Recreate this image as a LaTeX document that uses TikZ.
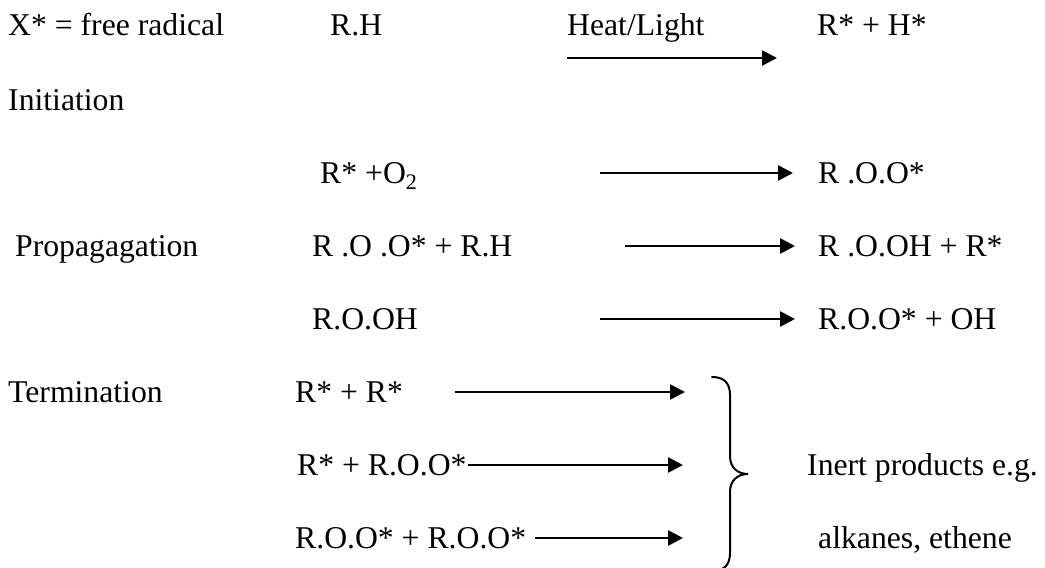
\documentclass[tikz,border=0pt]{standalone}
\usepackage{fontspec}
\setmainfont{Liberation Serif}
\usetikzlibrary{arrows.meta}

\begin{document}
\begin{tikzpicture}[x=1pt,y=-1pt,>={Triangle[length=15pt,width=15pt]},
   txt/.style={anchor=base west,inner sep=0pt,font=\fontsize{31.7}{38}\selectfont},
   rxn/.style={->,line width=2.6pt},
   brc/.style={line width=2pt,line cap=round}]
  \useasboundingbox (0,0) rectangle (1045,568);
  \clip (0,0) rectangle (1045,568);
  % stage labels
  \node[txt] (def) at (8,35) {X* = free radical};
  \node[txt] (init) at (8,110) {Initiation};
  \node[txt] (prop) at (15,256) {Propagagation};
  \node[txt] (term) at (8,402) {Termination};
  % left hand sides
  \node[txt] (l1) at (330,35) {R.H};
  \node[txt] (heat) at (567,35) {Heat/Light};
  \node[txt] (l2) at (320,183) {R* +O\textsubscript{2}};
  \node[txt] (l3) at (312,256) {R .O .O* + R.H};
  \node[txt] (l4) at (312,329) {R.O.OH};
  \node[txt] (l5) at (295,402) {R* + R*};
  \node[txt] (l6) at (297,475) {R* + R.O.O*};
  \node[txt] (l7) at (295,548) {R.O.O* + R.O.O*};
  % right hand sides
  \node[txt] (r1) at (817,35) {R* + H*};
  \node[txt] (r2) at (818,183) {R .O.O*};
  \node[txt] (r3) at (818,256) {R .O.OH + R*};
  \node[txt] (r4) at (818,329) {R.O.O* + OH};
  \node[txt] (inert) at (807,475) {Inert products e.g.};
  \node[txt] (alk) at (818,548) {alkanes, ethene};
  % arrows
  \foreach \n/\xa/\xb/\y in {1/567/777/58,2/600/793/173,3/625/795/246,4/600/795/319,
      5/455/685/392,6/468/683/465,7/535/683/538} {
    \coordinate (s\n) at (\xa,\y);
    \coordinate (e\n) at (\xb,\y);
    \draw[rxn] (s\n) -- (e\n);
  }
  % brace
  \draw[brc] (712,377) .. controls (724,377) and (730,383) .. (730,395) -- (730,456)
     .. controls (730,468) and (738,474) .. (748,474)
     .. controls (738,474) and (730,480) .. (730,492) -- (730,553)
     .. controls (730,565) and (724,571) .. (712,571);
\end{tikzpicture}
\end{document}
